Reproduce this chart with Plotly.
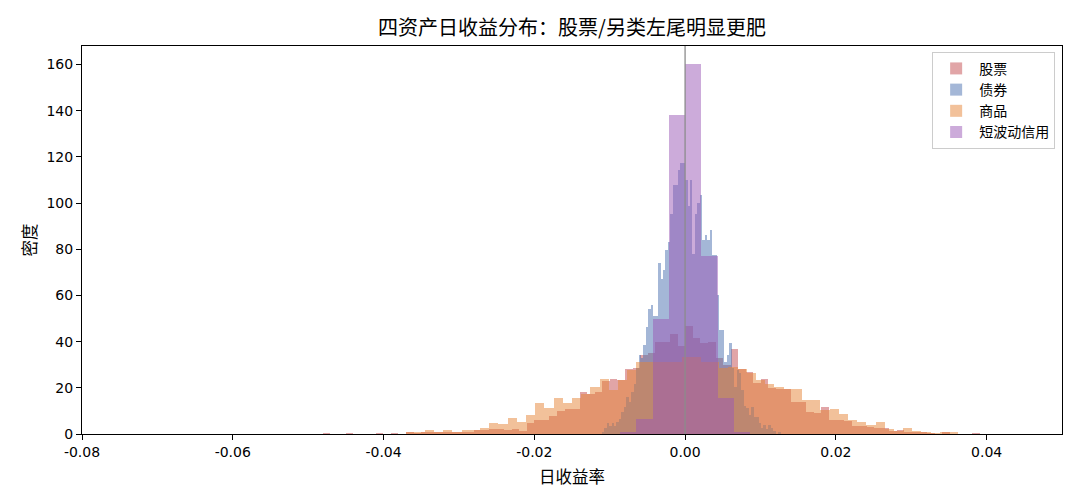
import plotly.graph_objects as go

# ---- data (histogram densities) ----
series_names = ["股票", "债券", "商品", "短波动信用"]

stock_start = -0.04804
stock_width = 0.0010017
stock_density = [0.4, 0, 0, 0.4, 0, 0, 0, 0.4, 0, 0.4, 0, 0.5, 0.4, 0.5, 0.5, 0.5, 0.5, 0.5, 0.5, 0.6,
                 1.7, 1.7, 2.2, 2.2, 1.7, 2.2, 1.5, 4.8, 6, 6, 7.8, 10, 10.8, 10.8, 18, 17.3, 18.2, 23, 23.8, 23.4,
                 28, 28.4, 34, 35, 40, 40, 43.5, 38, 46.7, 41.7, 39.3, 40, 33, 30, 36.7, 28, 26.7, 22, 23.8, 20,
                 19.3, 19.3, 14, 14, 9.5, 9, 11.7, 6, 6, 5.6, 3.5, 3.5, 3, 2.5, 2.5, 1.5, 1.9, 1.0, 0.8, 0.5,
                 0.3, 0, 0.5, 0, 0, 0, 0.4]

bond_start = -0.01105
bond_width = 0.000325
bond_density = [1, 2.7, 4.6, 3.5, 4.6, 3.5, 5, 6.5, 9.6, 11.5, 16, 14, 18.3, 21.6, 28.4, 34.2, 33, 38.5, 46.4, 54,
                55.8, 51, 51, 74, 67.3, 70.9, 79.6, 83.2, 95.4, 108, 108, 114.5, 117.5, 117.5,
                109.8, 98.7, 109.8, 78, 95.4, 100, 103.4, 84.2, 86, 84.2, 88.2, 77.4, 77.4, 60, 45, 45,
                31, 34, 39.5, 28.5, 20.5, 27.7, 26.3, 19, 12.1, 11.1, 8.2, 11.7, 7.2, 7.2, 4.6, 2.5,
                3.9, 2, 3.9, 2.5, 1.5, 0, 1]

comm_start = -0.03696
comm_width = 0.00122
comm_density = [0.7, 1.0, 1.7, 0.5, 1.7, 1.0, 1.7, 1.7, 2.6, 4.8, 4.5, 6.9, 5.2, 8.2, 13.4, 11.2, 15.6, 13.4,
                15.6, 17.3, 20.3, 23.8, 19, 23.4, 27.7, 31, 31, 31.3, 31.3, 31.3, 33.4, 33.4, 31.3, 31.3,
                28.5, 29, 28, 26.5, 23.4, 21.5, 20.5, 19.3, 19.3, 14.7, 14.7, 10.5, 10.8, 8.6, 6, 5.3,
                3.9, 5.3, 2, 1.3, 2.5, 1.3, 0.9, 0.4, 0.9, 0.9]

svc_start = -0.00864
svc_width = 0.00216
svc_density = [0.8, 6.5, 50, 138, 160, 77, 15.5, 0.8]

x_tick_vals = [-0.08, -0.06, -0.04, -0.02, 0.0, 0.02, 0.04]
x_tick_text = ["-0.08", "-0.06", "-0.04", "-0.02", "0.00", "0.02", "0.04"]
y_tick_vals = [0, 20, 40, 60, 80, 100, 120, 140, 160]

colors = ["#c44e52", "#4c72b0", "#e68537", "#9b59b6"]

FONT = "DejaVu Sans, Noto Sans CJK SC, sans-serif"
CJK = "Noto Sans CJK SC, DejaVu Sans, sans-serif"

fig = go.Figure()
specs = [(stock_start, stock_width, stock_density),
         (bond_start, bond_width, bond_density),
         (comm_start, comm_width, comm_density),
         (svc_start, svc_width, svc_density)]
for name, color, (start, width, dens) in zip(series_names, colors, specs):
    centers = [start + width * (i + 0.5) for i in range(len(dens))]
    fig.add_trace(go.Bar(
        x=centers, y=dens, width=width, name=name,
        marker=dict(color=color, line=dict(width=0)),
        opacity=0.5,
    ))

fig.add_shape(type="line", xref="x", yref="paper", x0=0, x1=0, y0=0, y1=1,
              line=dict(color="#8c8c8c", width=1.3), layer="above")

fig.update_layout(
    width=1080, height=504,
    barmode="overlay", bargap=0,
    plot_bgcolor="white", paper_bgcolor="white",
    margin=dict(l=82, r=18, t=46, b=70),
    font=dict(family=FONT, size=14, color="black"),
    title=dict(text="四资产日收益分布：股票/另类左尾明显更肥", x=0.5, xanchor="center", xref="paper",
               y=0.944, yanchor="middle", yref="container",
               font=dict(family=CJK, size=20, color="black")),
    legend=dict(x=0.993, y=0.985, xanchor="right", yanchor="top",
                bgcolor="white", bordercolor="#cccccc", borderwidth=1,
                font=dict(family=FONT, size=14), traceorder="normal", itemwidth=36),
    showlegend=True,
)
fig.update_xaxes(range=[-0.08, 0.05], tickvals=x_tick_vals, ticktext=x_tick_text,
                 showline=True, mirror=True, linecolor="black", linewidth=1,
                 ticks="outside", ticklen=5, tickcolor="black", showgrid=False, zeroline=False,
                 tickfont=dict(family=FONT, size=14),
                 title=dict(text="日收益率", font=dict(family=FONT, size=16.5), standoff=12))
fig.update_yaxes(range=[0, 168], tickvals=y_tick_vals,
                 showline=True, mirror=True, linecolor="black", linewidth=1,
                 ticks="outside", ticklen=5, tickcolor="black", showgrid=False, zeroline=False,
                 tickfont=dict(family=FONT, size=14),
                 title=dict(text="密度", font=dict(family=FONT, size=16.5), standoff=5))

fig.write_html("out.html")
